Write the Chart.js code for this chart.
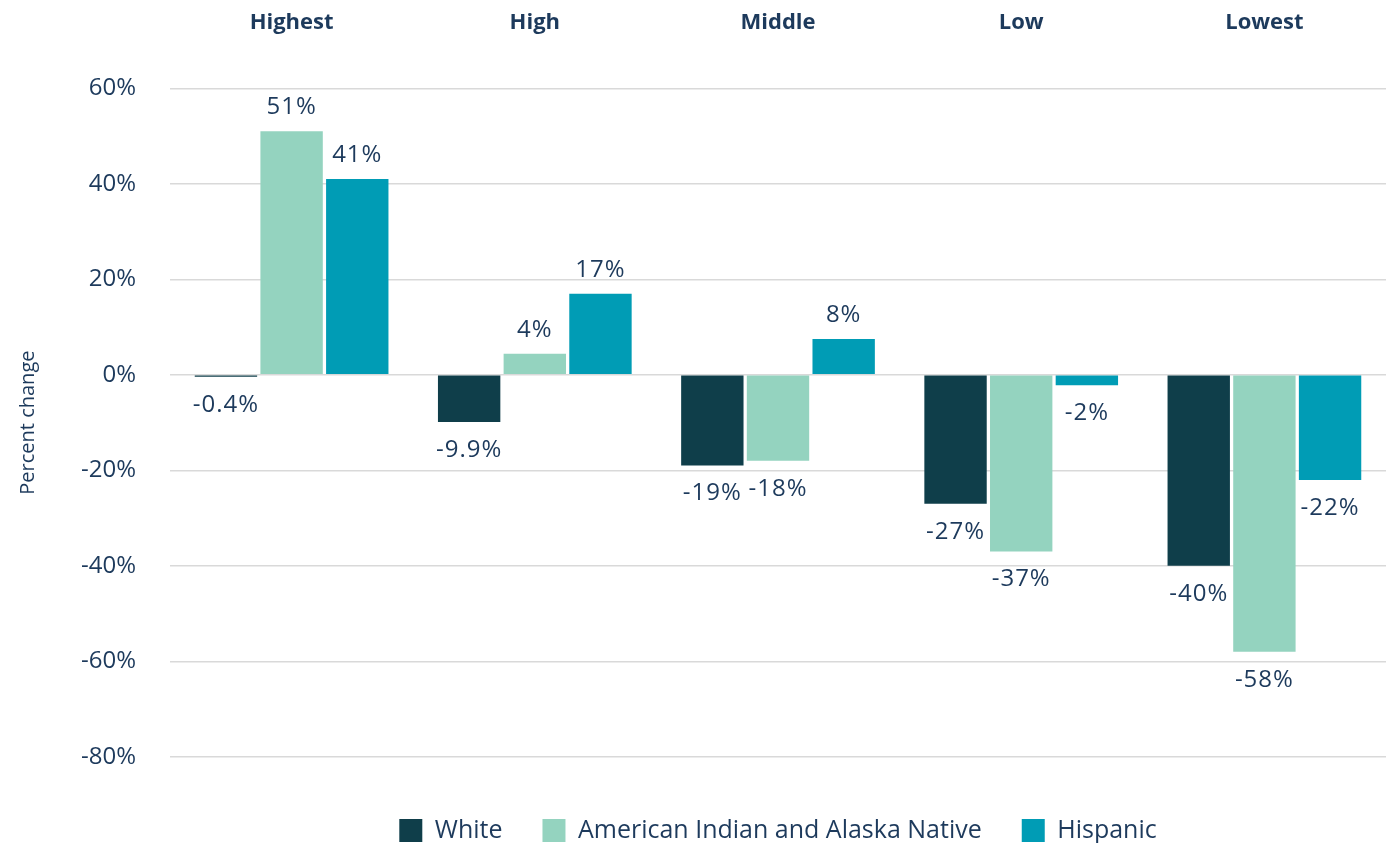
<!DOCTYPE html>
<html>
<head>
<meta charset="utf-8">
<script src="https://cdn.jsdelivr.net/npm/chart.js@4"></script>
<style>
    html, body { margin: 0; padding: 0; background: #fff; }
    #wrap { width: 1386px; height: 843px; position: relative; }
</style>
</head>
<body>
<div id="wrap"><canvas id="chart"></canvas></div>
<script>
// Percent change by group
const categories = ['Highest', 'High', 'Middle', 'Low', 'Lowest'];
const whiteValues = [-0.4, -9.9, -19, -27, -40];
const aianValues = [51, 4.4, -18, -37, -58];
const hispanicValues = [41, 17, 7.5, -2.2, -22];
const whiteLabels = ['-0.4%', '-9.9%', '-19%', '-27%', '-40%'];
const aianLabels = ['51%', '4%', '-18%', '-37%', '-58%'];
const hispanicLabels = ['41%', '17%', '8%', '-2%', '-22%'];
const yTicks = [60, 40, 20, 0, -20, -40, -60, -80];

const TEXT = '#1d3a5c';
const FONT = '"Open Sans", Lato, sans-serif';

// draws the value text above positive bars and below negative ones
const barLabels = {
    id: 'barLabels',
    afterDatasetsDraw(chart) {
        const ctx = chart.ctx;
        ctx.save();
        ctx.font = '24px ' + FONT;
        ctx.letterSpacing = '1px';
        ctx.fillStyle = TEXT;
        ctx.textAlign = 'center';
        ctx.textBaseline = 'middle';
        chart.data.datasets.forEach((ds, i) => {
            const meta = chart.getDatasetMeta(i);
            meta.data.forEach((bar, j) => {
                const v = ds.data[j];
                const y = v >= 0 ? bar.y - 24 : bar.y + 28;
                ctx.fillText(ds.valueLabels[j], bar.x, y);
            });
        });
        ctx.restore();
    }
};

new Chart(document.getElementById('chart'), {
    type: 'bar',
    data: {
        labels: categories,
        datasets: [
            { label: 'White', data: whiteValues, valueLabels: whiteLabels, backgroundColor: '#0f3e4a' },
            { label: 'American Indian and Alaska Native', data: aianValues, valueLabels: aianLabels, backgroundColor: '#94d3bf' },
            { label: 'Hispanic', data: hispanicValues, valueLabels: hispanicLabels, backgroundColor: '#009cb5' }
        ]
    },
    options: {
        responsive: true,
        maintainAspectRatio: false,
        animation: false,
        categoryPercentage: 0.81,
        barPercentage: 0.95,
        layout: { padding: { left: 12, right: 0, top: -42, bottom: -10 } },
        plugins: {
            legend: {
                position: 'bottom',
                fullSize: false,
                // empty title only used as a spacer above the items
                title: { display: true, text: ' ', font: { size: 1 }, padding: { top: 20, bottom: 0 } },
                labels: {
                    boxWidth: 23,
                    boxHeight: 23,
                    padding: 40,
                    color: TEXT,
                    font: { family: FONT, size: 25 }
                }
            },
            tooltip: { enabled: false }
        },
        scales: {
            x: {
                position: 'top',
                grid: { display: false, drawTicks: false },
                border: { display: false },
                ticks: {
                    color: TEXT,
                    padding: 52,
                    font: { family: FONT, size: 22, weight: 'bold' }
                }
            },
            y: {
                min: -80,
                max: 60,
                afterBuildTicks(axis) {
                    axis.ticks = yTicks.map(v => ({ value: v }));
                },
                grid: { color: '#d9d9d9', lineWidth: 1.5, drawTicks: false },
                border: { display: false },
                ticks: {
                    color: TEXT,
                    padding: 34,
                    font: { family: FONT, size: 24 },
                    callback: v => v + '%'
                },
                title: {
                    display: true,
                    text: 'Percent change',
                    color: TEXT,
                    padding: { top: 4, bottom: 7 },
                    font: { family: FONT, size: 20 }
                }
            }
        }
    },
    plugins: [barLabels]
});
</script>
</body>
</html>
